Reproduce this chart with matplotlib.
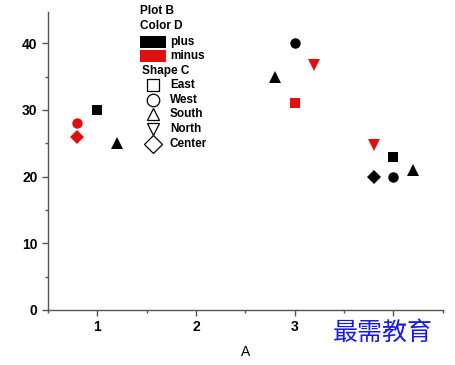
import matplotlib
matplotlib.use("Agg")
import matplotlib.pyplot as plt
from matplotlib.lines import Line2D
from matplotlib.patches import Rectangle
from matplotlib.ticker import MultipleLocator

plt.rcParams['font.family'] = ['Liberation Sans', 'Noto Sans CJK SC', 'DejaVu Sans']

# points: A, B, colour group, shape group
a_vals = [0.8, 0.8, 1.0, 1.2, 3.0, 3.2, 2.8, 3.0, 3.8, 4.0, 3.8, 4.0, 4.2]
b_vals = [28, 26, 30, 25, 40, 36.7, 35, 31, 24.8, 23, 20, 20, 21]
colour_d = ['minus', 'minus', 'plus', 'plus', 'plus', 'minus', 'plus', 'minus',
            'minus', 'plus', 'plus', 'plus', 'plus']
shape_c = ['West', 'Center', 'East', 'South', 'West', 'North', 'South', 'East',
           'North', 'East', 'Center', 'West', 'South']

colour_names = ['plus', 'minus']
shape_names = ['East', 'West', 'South', 'North', 'Center']

colours = {'plus': 'black', 'minus': '#e01010'}
markers = {'East': 's', 'West': 'o', 'South': '^', 'North': 'v', 'Center': 'D'}
sizes = {'East': 7, 'West': 7.5, 'South': 8.5, 'North': 8.5, 'Center': 7}

fig = plt.figure(figsize=(4.56, 3.65), dpi=100)
ax = fig.add_axes([0.105, 0.151, 0.866, 0.816])

for x, y, c, s in zip(a_vals, b_vals, colour_d, shape_c):
    ax.plot(x, y, linestyle='none', marker=markers[s], markersize=sizes[s],
            color=colours[c], markeredgewidth=0)

ax.set_xlim(0.5, 4.5)
ax.set_ylim(0, 44.7)
ax.set_xticks([1, 2, 3, 4])
ax.set_yticks([0, 10, 20, 30, 40])
ax.xaxis.set_minor_locator(MultipleLocator(0.5))
ax.yaxis.set_minor_locator(MultipleLocator(5))
for sp in ['top', 'right']:
    ax.spines[sp].set_visible(False)
for sp in ['left', 'bottom']:
    ax.spines[sp].set_color('#555555')
    ax.spines[sp].set_linewidth(1.0)
ax.tick_params(which='major', direction='out', length=4, width=1, color='#555555',
               labelsize=10)
ax.tick_params(which='minor', direction='out', length=2.5, width=1, color='#555555')
for lab in ax.get_xticklabels() + ax.get_yticklabels():
    lab.set_fontweight('bold')
ax.set_xlabel('A', fontsize=10, labelpad=8)

# legend block
fs = 8.5
fig.text(140 / 456, 1 - 11 / 365, 'Plot B', fontsize=fs, fontweight='bold', va='center')
fig.text(140 / 456, 1 - 26 / 365, 'Color D', fontsize=fs, fontweight='bold', va='center')
for i, name in enumerate(colour_names):
    yc = 42 + i * 14
    fig.patches.append(Rectangle((140 / 456, 1 - (yc + 6) / 365), 26 / 456, 12 / 365,
                                 transform=fig.transFigure, facecolor=colours[name],
                                 edgecolor='none'))
    fig.text(170 / 456, 1 - yc / 365, name, fontsize=fs, fontweight='bold', va='center')
fig.text(142 / 456, 1 - 71 / 365, 'Shape C', fontsize=fs, fontweight='bold', va='center')
for i, name in enumerate(shape_names):
    yc = 85 + i * 14.7
    fig.lines.append(Line2D([153 / 456], [1 - yc / 365], transform=fig.transFigure,
                            marker=markers[name], markersize=9, markerfacecolor='white',
                            markeredgecolor='black', markeredgewidth=0.9, linestyle='none'))
    fig.text(170 / 456, 1 - yc / 365, name, fontsize=fs, fontweight='bold', va='center')

fig.text(333 / 456, 1 - 333 / 365, '最需教育', fontsize=18, color='#1a1ae6', va='center',
         zorder=10, bbox=dict(facecolor='white', edgecolor='none', pad=1))

fig.savefig('out.png', dpi=100)
